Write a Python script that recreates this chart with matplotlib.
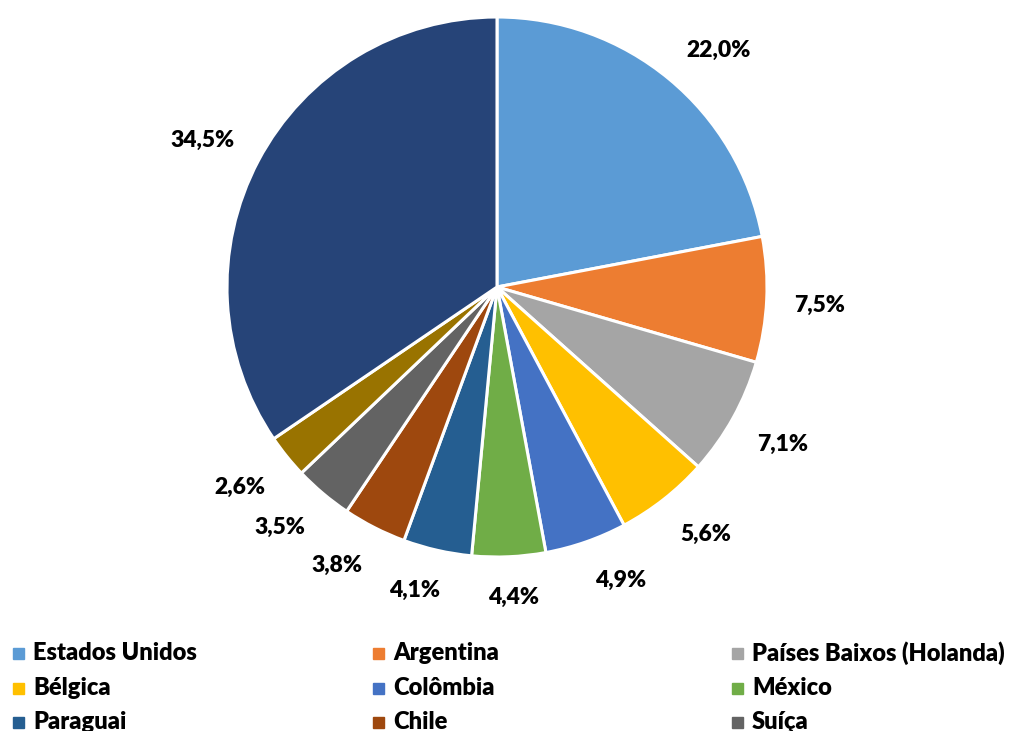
import numpy as np
import matplotlib
matplotlib.use('Agg')
import matplotlib.pyplot as plt
from matplotlib.patches import Rectangle

paises = ['Estados Unidos', 'Argentina', 'Países Baixos (Holanda)', 'Bélgica',
          'Colômbia', 'México', 'Paraguai', 'Chile', 'Suíça', 'Outro', 'Outros']
valores = [22.0, 7.5, 7.1, 5.6, 4.9, 4.4, 4.1, 3.8, 3.5, 2.6, 34.5]
cores = ['#5B9BD5', '#ED7D31', '#A5A5A5', '#FFC000', '#4472C4', '#70AD47',
         '#255E91', '#9E480E', '#636363', '#997300', '#264478']

plt.rcParams['font.family'] = ['Lato', 'DejaVu Sans']

W, H = 1014, 731
fig = plt.figure(figsize=(W / 100, H / 100), dpi=100)

# pie: centre (497, 287) px, radius 270 px
cx, cy, r = 497, 287, 270
ax = fig.add_axes([(cx - r) / W, (H - cy - r) / H, 2 * r / W, 2 * r / H])
wedges, texts, autotexts = ax.pie(
    valores, colors=cores, startangle=90, counterclock=False,
    autopct=lambda p: f'{p:.1f}%'.replace('.', ','), pctdistance=1.2,
    wedgeprops=dict(edgecolor='white', linewidth=2.2),
    textprops=dict(fontsize=16.5, fontweight='heavy', color='black'))
ax.set_xlim(-1, 1)
ax.set_ylim(-1, 1)
ax.axis('off')

# Excel-like: nearest corner of the label box sits on a point just off the rim
renderer = fig.canvas.get_renderer()
anchor = 1.1
for w, t in zip(wedges, autotexts):
    ang = np.deg2rad((w.theta1 + w.theta2) / 2)
    bb = t.get_window_extent(renderer)
    hw, hh = bb.width / 2 / r, bb.height / 2 / r
    kx = np.clip(3 * np.cos(ang), -1, 1)
    ky = np.clip(3 * np.sin(ang), -1, 1)
    t.set_position((anchor * np.cos(ang) + hw * kx,
                    anchor * np.sin(ang) + hh * ky - 3 / r))
    t.set_ha('center')
    t.set_va('center')

# legend (only three rows visible)
col_x = [18, 378, 737]
row_y = [653, 688, 722]
for i, nome in enumerate(paises[:9]):
    x = col_x[i % 3]
    y = row_y[i // 3]
    fig.patches.append(Rectangle(((x - 5.5) / W, (H - y - 5.5) / H), 11 / W, 11 / H,
                                 transform=fig.transFigure, color=cores[i],
                                 figure=fig))
    fig.text((x + 15) / W, (H - y) / H, nome, fontsize=17, fontweight='heavy',
             ha='left', va='center')

fig.savefig('out.png', dpi=100)
